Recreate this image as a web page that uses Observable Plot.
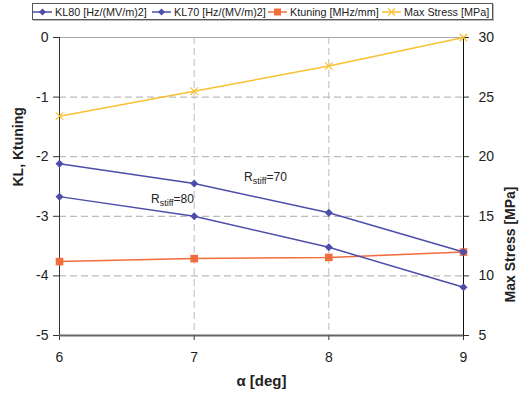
<!DOCTYPE html>
<html>
<head>
<meta charset="utf-8">
<script src="https://cdn.jsdelivr.net/npm/d3@7"></script>
<script src="https://cdn.jsdelivr.net/npm/@observablehq/plot@0.6"></script>
<style>
  html, body { margin: 0; padding: 0; background: #fff; }
  body { width: 527px; height: 399px; overflow: hidden; font-family: "Liberation Sans", Arial, sans-serif; }
  #legendwrap { position: relative; height: 24px; }
  #legend { position: absolute; left: 32px; top: 3px; width: 459px; height: 15px; border: 1px solid #555;
    box-shadow: 1px 1px 0 #bbb; font-size: 10.8px; color: #222; white-space: nowrap; }
  .item { position: absolute; top: 0; height: 15px; display: flex; align-items: center; }
  .item svg { margin-right: 3px; }
  #chart svg { display: block; }
</style>
</head>
<body>
<div id="legendwrap"><div id="legend"></div></div>
<div id="chart"></div>
<script>
// ---- data ----
const alpha = [6, 7, 8, 9];
const kl80 = [-2.12, -2.45, -2.94, -3.6];
const kl70 = [-2.67, -3.0, -3.52, -4.19];
const ktuning = [-3.76, -3.71, -3.69, -3.6];
const maxStress = [23.4, 25.5, 27.6, 30];
const leftTicks = [0, -1, -2, -3, -4, -5];
const rightTicks = [5, 10, 15, 20, 25, 30];
const xTicks = [6, 7, 8, 9];
const seriesNames = ["KL80 [Hz/(MV/m)2]", "KL70 [Hz/(MV/m)2]", "Ktuning [MHz/mm]", "Max Stress [MPa]"];
const annotations = [
  {label: "R_stiff=70", x: 7.37, y: -2.41},
  {label: "R_stiff=80", x: 6.68, y: -2.785}
];

const blue = "#4d4daa", orange = "#f36c3d", yellow = "#f8c132";
const stressMin = 5, stressMax = 30;
// map stress (right axis, 5..30) onto the left scale (-5..0)
const toLeft = s => (s - stressMax) / (stressMax - stressMin) * 5;

const rows = (ys) => alpha.map((a, i) => ({a, v: ys[i]}));
const d80 = rows(kl80), d70 = rows(kl70), dk = rows(ktuning), ds = rows(maxStress.map(toLeft));

const chart = Plot.plot({
  width: 527, height: 375,
  marginTop: 13, marginBottom: 64, marginLeft: 59, marginRight: 64,
  x: {domain: [6, 9]},
  y: {domain: [-5, 0]},
  style: {fontFamily: "Liberation Sans, Arial, sans-serif", fontSize: "14px", color: "#222", background: "#fff"},
  marks: [
    Plot.gridY([-1, -2, -3, -4], {stroke: "#aaa", strokeOpacity: 1, strokeDasharray: "7,4"}),
    Plot.gridX([7, 8], {stroke: "#bbb", strokeOpacity: 1, strokeDasharray: "7,4"}),
    Plot.ruleY([0], {stroke: "#aaa"}),
    Plot.axisY(leftTicks, {anchor: "left", tickSize: 6, tickPadding: 5, label: null, fontSize: 14, stroke: "#333",
      tickFormat: d => String(d)}),
    Plot.axisY(rightTicks.map(toLeft), {anchor: "right", tickSize: 5, tickPadding: 10, label: null, fontSize: 14,
      tickFormat: d => String(Math.round(stressMax + d * (stressMax - stressMin) / 5)), stroke: "#333"}),
    Plot.axisX(xTicks, {anchor: "bottom", tickSize: 5, tickPadding: 12, label: null, fontSize: 14, stroke: "#333",
      tickFormat: d => String(d)}),
    Plot.ruleX([6], {stroke: "#333"}),
    Plot.ruleX([9], {stroke: "#111"}),
    Plot.ruleY([-5], {stroke: "#666", strokeWidth: 2}),
    Plot.text(["KL, Ktuning"], {frameAnchor: "left", rotate: -90, dx: -41, fontWeight: "bold", fontSize: 14}),
    Plot.text(["Max Stress [MPa]"], {frameAnchor: "right", rotate: -90, dx: 47, fontWeight: "bold", fontSize: 14}),
    Plot.text(["α [deg]"], {frameAnchor: "bottom", dy: 50, fontWeight: "bold", fontSize: 15}),
    Plot.line(ds, {x: "a", y: "v", stroke: yellow, strokeWidth: 1.5}),
    Plot.dot(ds, {x: "a", y: "v", symbol: "times", r: 3.5, stroke: yellow, strokeWidth: 1.2}),
    Plot.line(dk, {x: "a", y: "v", stroke: orange, strokeWidth: 1.5}),
    Plot.dot(dk, {x: "a", y: "v", symbol: "square", r: 4.3, fill: orange}),
    Plot.line(d80, {x: "a", y: "v", stroke: blue, strokeWidth: 1.5}),
    Plot.dot(d80, {x: "a", y: "v", symbol: "diamond2", r: 3.6, fill: blue}),
    Plot.line(d70, {x: "a", y: "v", stroke: blue, strokeWidth: 1.5}),
    Plot.dot(d70, {x: "a", y: "v", symbol: "diamond2", r: 3.6, fill: blue}),
    Plot.text(annotations, {x: "x", y: "y", text: "label", textAnchor: "start", lineAnchor: "bottom", fontSize: 12, fill: "#222"})
  ]
});

// subscript formatting for R_stiff labels
d3.select(chart).selectAll("text").each(function() {
  const t = this.textContent;
  const m = /^R_(\w+)(=.*)$/.exec(t);
  if (m) {
    const s = d3.select(this);
    s.text(null);
    s.append("tspan").text("R");
    s.append("tspan").attr("font-size", 9).attr("dy", 3).text(m[1]);
    s.append("tspan").attr("dy", -3).text(m[2]);
  }
});
document.getElementById("chart").appendChild(chart);

// legend
const legend = d3.select("#legend");
const legendSpec = [
  {name: seriesNames[0], color: blue, sym: "diamond", left: 0},
  {name: seriesNames[1], color: blue, sym: "diamond", left: 119},
  {name: seriesNames[2], color: orange, sym: "square", left: 235},
  {name: seriesNames[3], color: yellow, sym: "times", left: 349}
];
legendSpec.forEach(d => {
  const it = legend.append("div").attr("class", "item").style("left", d.left + "px");
  const sv = it.append("svg").attr("width", 19).attr("height", 12);
  sv.append("line").attr("x1", 0).attr("x2", 19).attr("y1", 6).attr("y2", 6).attr("stroke", d.color).attr("stroke-width", 1.5);
  if (d.sym === "diamond") sv.append("path").attr("d", "M9.5,2.5L13,6L9.5,9.5L6,6Z").attr("fill", d.color);
  if (d.sym === "square") sv.append("rect").attr("x", 6).attr("y", 2.5).attr("width", 7).attr("height", 7).attr("fill", d.color);
  if (d.sym === "times") sv.append("path").attr("d", "M6,2.5L13,9.5M13,2.5L6,9.5").attr("stroke", d.color).attr("stroke-width", 1.2);
  it.append("span").text(d.name);
});
</script>
</body>
</html>
